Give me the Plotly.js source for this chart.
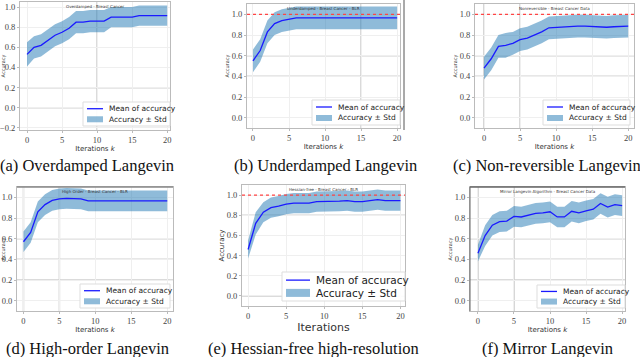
<!DOCTYPE html>
<html>
<head>
<meta charset="utf-8">
<script src="https://cdn.plot.ly/plotly-3.0.1.min.js"></script>
<style>
  body { margin: 0; background: #fff; }
  #chart { width: 640px; height: 357px; }
</style>
</head>
<body>
<div id="chart"></div>
<script>
// iterations 0..20
var iters = [0,1,2,3,4,5,6,7,8,9,10,11,12,13,14,15,16,17,18,19,20];

// (a) Overdamped Langevin
var meanA = [0.53,0.60,0.62,0.67,0.72,0.75,0.79,0.85,0.85,0.86,0.86,0.86,0.90,0.90,0.90,0.90,0.915,0.915,0.915,0.915,0.915];
var stdA  = [0.12,0.11,0.11,0.11,0.11,0.11,0.11,0.11,0.11,0.11,0.11,0.11,0.10,0.10,0.10,0.10,0.10,0.10,0.10,0.10,0.10];
// (b) Underdamped Langevin
var meanB = [0.55,0.65,0.83,0.91,0.94,0.955,0.965,0.965,0.965,0.965,0.965,0.965,0.965,0.965,0.965,0.965,0.965,0.965,0.965,0.965,0.965];
var stdB  = [0.11,0.11,0.11,0.11,0.11,0.11,0.11,0.11,0.11,0.11,0.11,0.11,0.11,0.11,0.11,0.11,0.11,0.11,0.11,0.11,0.11];
// (c) Non-reversible Langevin
var meanC = [0.48,0.57,0.69,0.70,0.72,0.755,0.77,0.80,0.83,0.87,0.875,0.875,0.88,0.885,0.885,0.88,0.875,0.875,0.88,0.88,0.885];
var stdC  = [0.11,0.11,0.11,0.12,0.11,0.11,0.11,0.11,0.11,0.11,0.11,0.11,0.11,0.11,0.11,0.11,0.11,0.11,0.11,0.11,0.11];
// (d) High-order Langevin
var meanD = [0.57,0.66,0.86,0.93,0.97,0.985,0.99,0.99,0.985,0.965,0.965,0.965,0.965,0.965,0.965,0.965,0.965,0.965,0.965,0.965,0.965];
var stdD  = [0.10,0.10,0.10,0.10,0.10,0.10,0.10,0.10,0.10,0.10,0.10,0.10,0.10,0.10,0.10,0.10,0.10,0.10,0.10,0.10,0.10];
// (e) Hessian-free high-resolution
var meanE = [0.46,0.72,0.83,0.875,0.89,0.91,0.92,0.92,0.92,0.935,0.935,0.935,0.94,0.945,0.935,0.935,0.945,0.955,0.945,0.945,0.945];
var stdE  = [0.09,0.11,0.10,0.10,0.10,0.10,0.10,0.10,0.10,0.10,0.10,0.10,0.10,0.10,0.10,0.10,0.10,0.10,0.10,0.10,0.10];
// (f) Mirror Langevin
var meanF = [0.46,0.63,0.73,0.765,0.77,0.815,0.81,0.83,0.845,0.85,0.86,0.81,0.81,0.865,0.85,0.87,0.885,0.94,0.905,0.93,0.92];
var stdF  = [0.08,0.10,0.10,0.10,0.10,0.10,0.10,0.10,0.10,0.10,0.10,0.10,0.10,0.10,0.10,0.10,0.10,0.10,0.10,0.10,0.10];

var captions = ["(a) Overdamped Langevin", "(b) Underdamped Langevin", "(c) Non-reversible Langevin",
                "(d) High-order Langevin", "(e) Hessian-free high-resolution", "(f) Mirror Langevin"];
var plotTitles = ["Overdamped - Breast Cancer", "Underdamped - Breast Cancer - BLR", "Nonreversible - Breast Cancer Data",
                  "High Order - Breast Cancer - BLR", "Hessian-free - Breast Cancer - BLR", "Mirror Langevin Algorithm - Breast Cancer Data"];
var xTitles = ["Iterations <i>k</i>", "Iterations <i>k</i>", "Iterations <i>k</i>", "Iterations <i>k</i>", "Iterations", "Iterations <i>k</i>"];
var legendNames = ["Mean of accuracy", "Accuracy ± Std"];

var W = 640, H = 357;
var SERIF = '"Liberation Serif", "Times New Roman", serif';
var SANS = '"DejaVu Sans", sans-serif';
// panel boxes in pixels: [left, right, top, bottom]
var boxes = [[20,170,2,130],[247,400,4,128],[475,634,4,128],[17,173,187,311],[242,405,185,306],[470,625,187,311]];
var xr = [[-1,20.4],[-0.83,20.4],[-1.25,20.8],[-0.9,20.8],[-0.8,20.6],[-1.1,20.4]];
var yr = [[-0.22,1.05],[-0.1,1.1],[-0.1,1.1],[-0.1,1.1],[-0.1,1.1],[-0.1,1.1]];
// legend boxes in pixels: [left, right, top, bottom]
var legBox = [[83,170,102,126],[312,400,100,125],[543,630,100,125],[80,170,284,308],[282,405,272,301],[537,625,285,308]];
var capPos = [[87,165],[325,165],[547,165],[87,348],[313,348],[547,348]];
var redLine = [false,true,true,false,true,false];
var darkV = [[10],[15],[0,5],[0,5],[],[0,5]];
var darkH = [[0.2,0.0],[0.6,0.4],[0.6,0.4],[0.6,0.4,0.2],[0.8,0.0],[0.6,0.4,0.2]];

var means = [meanA,meanB,meanC,meanD,meanE,meanF];
var stds = [stdA,stdB,stdC,stdD,stdE,stdF];

var data = [];
var layout = {
  width: W, height: H,
  margin: {l:0, r:0, t:0, b:0},
  paper_bgcolor: '#fff', plot_bgcolor: '#fff',
  showlegend: false,
  annotations: [], shapes: []
};

function px(x) { return x / W; }
function py(y) { return 1 - y / H; }

for (var p = 0; p < 6; p++) {
  var n = p === 0 ? '' : String(p + 1);
  var xa = 'x' + n, ya = 'y' + n;
  var big = p === 4;
  var lo = means[p].map(function(m, i) { return m - stds[p][i]; });
  var hi = means[p].map(function(m, i) { return m + stds[p][i]; });
  data.push({x: iters, y: lo, xaxis: xa, yaxis: ya, mode: 'lines', line: {width: 0, color: 'rgba(0,0,0,0)'}, hoverinfo: 'skip'});
  data.push({x: iters, y: hi, xaxis: xa, yaxis: ya, mode: 'lines', line: {width: 0, color: 'rgba(0,0,0,0)'},
             fill: 'tonexty', fillcolor: 'rgba(31,119,180,0.5)', name: legendNames[1]});
  data.push({x: iters, y: means[p], xaxis: xa, yaxis: ya, mode: 'lines', line: {width: 1.3, color: '#1a1aff'},
             name: legendNames[0]});

  var b = boxes[p];
  var tickFont = {family: SERIF, size: 8.5, color: '#444'};
  layout['xaxis' + n] = {
    domain: [px(b[0]), px(b[1])], anchor: ya, range: xr[p], dtick: 5, tick0: 0,
    showgrid: true, gridcolor: '#efefef', gridwidth: 1, zeroline: false,
    showline: true, linecolor: '#bbb', linewidth: 1, mirror: true,
    ticks: 'outside', ticklen: 2, tickcolor: '#bbb', tickfont: tickFont,
    title: {text: xTitles[p], font: {family: SANS, size: big ? 11 : 7, color: '#333'}, standoff: 1}
  };
  layout['yaxis' + n] = {
    domain: [py(b[3]), py(b[2])], anchor: xa, range: yr[p], dtick: 0.2, tick0: 0,
    tickformat: '.1f', showgrid: true, gridcolor: '#efefef', gridwidth: 1, zeroline: false,
    showline: true, linecolor: '#bbb', linewidth: 1, mirror: true,
    ticks: 'outside', ticklen: 2, tickcolor: '#bbb', tickfont: tickFont,
    title: {text: 'Accuracy', font: {family: SANS, size: big ? 7 : 5, color: '#333'}, standoff: 1}
  };

  // tiny plot title
  layout.annotations.push({xref: 'paper', yref: 'paper', x: px((b[0] + b[1]) / 2), y: py(b[2]),
    xanchor: 'center', yanchor: 'top', text: plotTitles[p], showarrow: false,
    font: {family: SANS, size: 4, color: '#333'}});
  // caption
  layout.annotations.push({xref: 'paper', yref: 'paper', x: px(capPos[p][0]), y: py(capPos[p][1]),
    xanchor: 'center', yanchor: 'middle', text: captions[p], showarrow: false,
    font: {family: SERIF, size: 16.5, color: '#111'}});

  // legend drawn by hand (compact, like matplotlib's)
  var L = legBox[p];
  var fs = big ? 10.5 : 7.5;
  layout.shapes.push({type: 'rect', xref: 'paper', yref: 'paper', x0: px(L[0]), x1: px(L[1]), y0: py(L[3]), y1: py(L[2]),
    fillcolor: 'rgba(255,255,255,0.92)', line: {color: '#ddd', width: 1}});
  var r1 = L[2] + (L[3] - L[2]) * 0.28, r2 = L[2] + (L[3] - L[2]) * 0.72;
  var sw = big ? 24 : 16;
  layout.shapes.push({type: 'line', xref: 'paper', yref: 'paper', x0: px(L[0] + 4), x1: px(L[0] + 4 + sw), y0: py(r1), y1: py(r1),
    line: {color: '#1a1aff', width: 1.3}});
  layout.shapes.push({type: 'rect', xref: 'paper', yref: 'paper', x0: px(L[0] + 4), x1: px(L[0] + 4 + sw),
    y0: py(r2 + (big ? 4 : 3)), y1: py(r2 - (big ? 4 : 3)), fillcolor: 'rgba(31,119,180,0.5)', line: {width: 0}});
  layout.annotations.push({xref: 'paper', yref: 'paper', x: px(L[0] + 8 + sw), y: py(r1), xanchor: 'left', yanchor: 'middle',
    text: legendNames[0], showarrow: false, font: {family: SANS, size: fs, color: '#222'}});
  layout.annotations.push({xref: 'paper', yref: 'paper', x: px(L[0] + 8 + sw), y: py(r2), xanchor: 'left', yanchor: 'middle',
    text: legendNames[1], showarrow: false, font: {family: SANS, size: fs, color: '#222'}});

  if (redLine[p]) {
    layout.shapes.push({type: 'line', xref: xa + ' domain', yref: ya, x0: 0, x1: 1, y0: 1, y1: 1,
      line: {color: '#ff4444', width: 1.2, dash: 'dot'}});
  }
  darkV[p].forEach(function(v) {
    layout.shapes.push({type: 'line', xref: xa, yref: ya + ' domain', x0: v, x1: v, y0: 0, y1: 1,
      line: {color: '#c8c8c8', width: 1.5}, layer: 'below'});
  });
  darkH[p].forEach(function(v) {
    layout.shapes.push({type: 'line', xref: xa + ' domain', yref: ya, x0: 0, x1: 1, y0: v, y1: v,
      line: {color: '#cfcfcf', width: 1.5}, layer: 'below'});
  });
}

// dark frame strokes visible in some panels
layout.shapes.push({type: 'line', xref: 'paper', yref: 'paper', x0: px(404), x1: px(404), y0: py(130), y1: 1,
  line: {color: '#555', width: 1}});
layout.shapes.push({type: 'line', xref: 'x4 domain', yref: 'y4 domain', x0: 0, x1: 1, y0: 1, y1: 1,
  line: {color: '#888', width: 1.5}});
layout.shapes.push({type: 'line', xref: 'x6 domain', yref: 'y6 domain', x0: 0, x1: 1, y0: 1, y1: 1,
  line: {color: '#666', width: 1.5}});
layout.shapes.push({type: 'line', xref: 'x6 domain', yref: 'y6 domain', x0: 0, x1: 0, y0: 0, y1: 1,
  line: {color: '#666', width: 1}});

Plotly.newPlot('chart', data, layout, {displayModeBar: false, staticPlot: true});
</script>
</body>
</html>
